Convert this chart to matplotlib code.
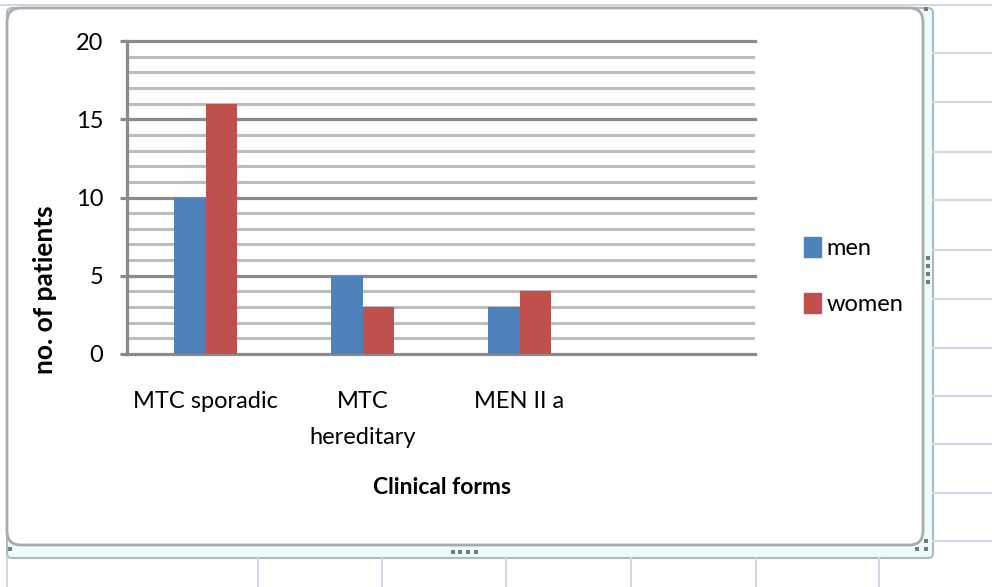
import matplotlib.pyplot as plt
from matplotlib.patches import FancyBboxPatch, Patch

plt.rcParams['font.family'] = ['Lato', 'DejaVu Sans']

categories = ['MTC sporadic', 'MTC\nhereditary', 'MEN II a']
men = [10, 5, 3]
women = [16, 3, 4]
series_names = ['men', 'women']
y_ticks = [0, 5, 10, 15, 20]

blue = '#4f81bd'
red = '#c0504d'
major_grey = '#8a8a8a'
minor_grey = '#bdbdbd'
sheet_line = '#d0d7e5'

fig = plt.figure(figsize=(9.92, 5.87), dpi=100)

# background in pixel units: worksheet cells, selection band and chart frame
bg = fig.add_axes([0, 0, 1, 1])
bg.set_xlim(0, 992)
bg.set_ylim(587, 0)
bg.axis('off')

bg.plot([0, 992], [5, 5], color=sheet_line, lw=1.5)
for yy in [53, 102, 152, 200, 250, 299, 348, 396, 444, 493, 541]:
    bg.plot([933, 992], [yy, yy], color=sheet_line, lw=1.5)
for xx in [7, 258, 382, 506, 631, 756, 879]:
    bg.plot([xx, xx], [558, 587], color=sheet_line, lw=1.5)

band = FancyBboxPatch((7, 8), 926, 550, boxstyle='round,pad=0,rounding_size=5',
                      fc='#ecfbfb', ec='#a9bbbf', lw=1.5)
bg.add_patch(band)
frame = FancyBboxPatch((7, 8), 916, 537, boxstyle='round,pad=0,rounding_size=14',
                       fc='white', ec='#a8acae', lw=2)
bg.add_patch(frame)

# resize handles
hx = [926, 928, 928, 928, 928, 453, 460, 468, 476, 10, 917, 926, 926]
hy = [9, 258, 266, 274, 282, 552, 552, 552, 552, 549, 549, 549, 541]
bg.plot(hx, hy, 's', color='#7a7a7a', ms=2.5, mew=0)

# plot area
ax = fig.add_axes([127 / 992, 233 / 587, 628 / 992, 313 / 587])
ax.set_facecolor('none')
x = list(range(len(categories)))
w = 0.2
ax.bar([i - w / 2 for i in x], men, w, color=blue, zorder=3)
ax.bar([i + w / 2 for i in x], women, w, color=red, zorder=3)

ax.set_xlim(-0.5, 3.5)
ax.set_ylim(0, 20)
ax.set_yticks(y_ticks)
ax.set_yticks(range(0, 21), minor=True)
ax.set_xticks(x)
ax.set_xticklabels(categories, fontsize=17, linespacing=1.85)
ax.set_yticklabels([str(v) for v in y_ticks], fontsize=17)

ax.set_axisbelow(True)
ax.grid(which='minor', axis='y', color=minor_grey, lw=2.2)
ax.grid(which='major', axis='y', color=major_grey, lw=2.3)
for gl in ax.yaxis.get_gridlines() + ax.yaxis.get_minorticklines():
    gl.set_clip_on(False)
for gl in ax.yaxis.get_majorticklines():
    gl.set_clip_on(False)
ax.tick_params(axis='y', which='major', length=5, width=2.3, color=major_grey, pad=12)
ax.tick_params(axis='y', which='minor', length=0)
ax.tick_params(axis='x', length=0, pad=27)

for s in ['top', 'right', 'bottom']:
    ax.spines[s].set_visible(False)
ax.spines['left'].set_color(major_grey)
ax.spines['left'].set_linewidth(2.3)

fig.text(45 / 992, 1 - 290 / 587, 'no. of patients', rotation=90, fontsize=19,
         fontweight='bold', ha='center', va='center')
fig.text(442 / 992, 1 - 488 / 587, 'Clinical forms', fontsize=16.5,
         fontweight='bold', ha='center', va='center')

handles = [Patch(color=blue), Patch(color=red)]
fig.legend(handles, series_names, loc='center left',
           bbox_to_anchor=(795 / 992, 1 - 276 / 587), frameon=False,
           fontsize=17, handlelength=0.7, handleheight=0.95,
           handletextpad=0.25, labelspacing=1.45, borderaxespad=0)

fig.savefig('out.png', dpi=100)
